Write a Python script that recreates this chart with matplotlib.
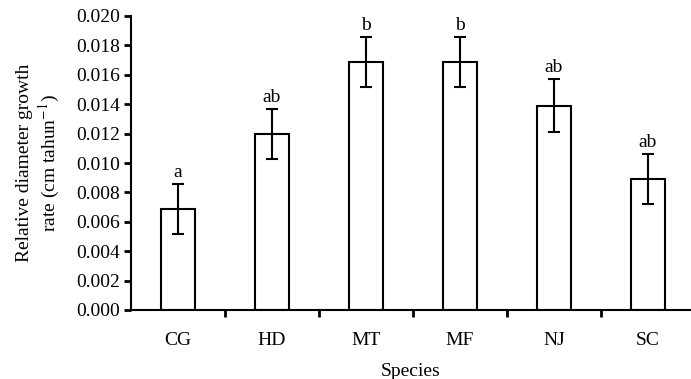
import numpy as np
import matplotlib.pyplot as plt

# Data
species = ["CG", "HD", "MT", "MF", "NJ", "SC"]
growth_rate = [0.0069, 0.0120, 0.0169, 0.0169, 0.0139, 0.0089]
std_err = [0.0017, 0.0017, 0.0017, 0.0017, 0.0018, 0.0017]
letters = ["a", "ab", "b", "b", "ab", "ab"]


def draw_chart():
    plt.rcParams['font.family'] = ['Liberation Serif', 'DejaVu Serif']
    plt.rcParams['mathtext.fontset'] = 'stix'

    fig = plt.figure(figsize=(6.91, 3.79), dpi=100)
    ax = fig.add_axes([131 / 691, 1 - 310 / 379, 1 - 131 / 691, (310 - 16) / 379])

    x = np.arange(len(species))
    ax.bar(x, growth_rate, width=0.37, color='white', edgecolor='black', linewidth=1.5,
           yerr=std_err, error_kw=dict(ecolor='black', elinewidth=1.5, capsize=4, capthick=1.5))

    # significance letters above the error bars
    for xi, val, err, lab in zip(x, growth_rate, std_err, letters):
        ax.text(xi, val + err + 0.0002, lab, ha='center', va='bottom', fontsize=14)

    ax.set_xlim(-0.5, (691 - 131) / 94 - 0.5)
    ax.set_ylim(0, 0.020)
    ax.set_yticks(np.arange(0, 0.0201, 0.002))
    ax.set_yticklabels(["%.3f" % v for v in np.arange(0, 0.0201, 0.002)])

    ax.set_xticks(x)
    ax.set_xticklabels(species)
    ax.set_xticks(x[:-1] + 0.5, minor=True)
    ax.tick_params(axis='x', which='major', length=0, pad=16, labelsize=14)
    ax.tick_params(axis='x', which='minor', length=5, width=2, direction='out')
    ax.tick_params(axis='y', length=5, width=2, direction='out', labelsize=14, pad=3)

    for side in ['top', 'right']:
        ax.spines[side].set_visible(False)
    ax.spines['left'].set_linewidth(1.5)
    ax.spines['bottom'].set_linewidth(1.5)

    ax.set_xlabel("Species", fontsize=14, labelpad=10)
    ax.set_ylabel("Relative diameter growth\nrate (cm tahun$^{-1}$)", fontsize=14, labelpad=10)

    fig.savefig("out.png", dpi=100)


if __name__ == '__main__':
    draw_chart()
